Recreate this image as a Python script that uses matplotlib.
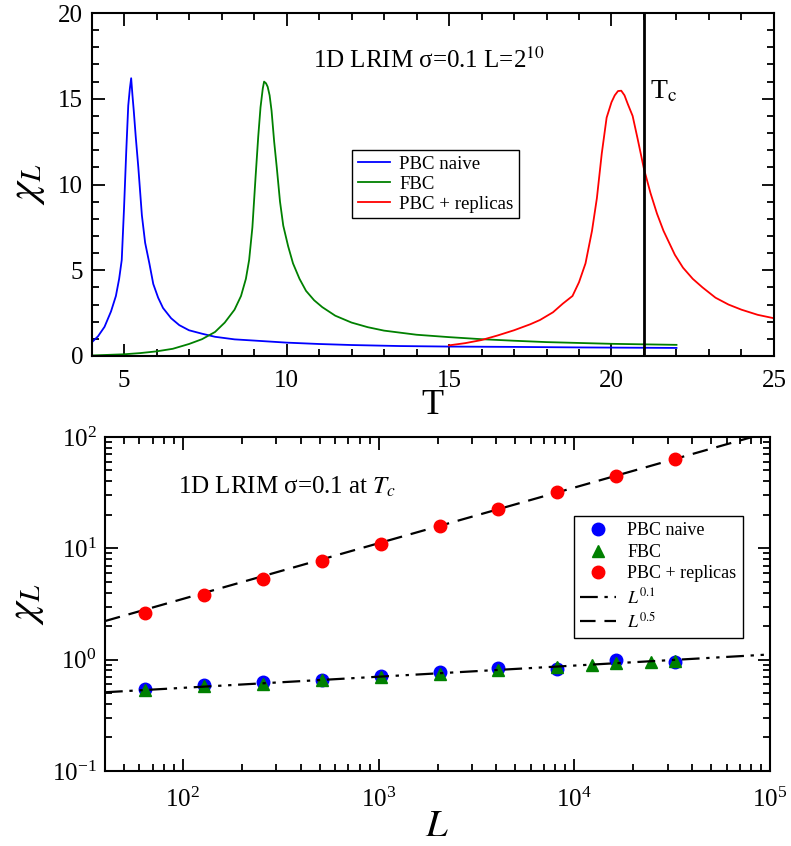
import numpy as np
import matplotlib
matplotlib.use("Agg")
import matplotlib.pyplot as plt
from matplotlib.ticker import MultipleLocator, LogLocator, NullFormatter

plt.rcParams['font.family'] = ['Liberation Serif', 'DejaVu Serif']
plt.rcParams['mathtext.fontset'] = 'stix'
plt.rcParams['axes.unicode_minus'] = False

# top panel: susceptibility vs temperature, L = 2^10
T_naive = [4.0, 4.2, 4.4, 4.6, 4.75, 4.85, 4.93, 5.0, 5.07, 5.13, 5.18, 5.22, 5.26, 5.3,
           5.36, 5.44, 5.55, 5.65, 5.78, 5.9, 6.05, 6.2, 6.45, 6.7, 7.0, 7.4, 7.8, 8.4,
           9.0, 10.0, 11.0, 12.0, 13.5, 15.0, 17.0, 19.0, 21.0, 22.0]
chi_naive = [0.78, 1.15, 1.7, 2.6, 3.5, 4.5, 5.6, 8.6, 12.0, 14.6, 15.6, 16.2, 15.2, 14.3,
             12.8, 11.0, 8.2, 6.6, 5.4, 4.2, 3.4, 2.8, 2.2, 1.8, 1.5, 1.3, 1.12, 0.97,
             0.9, 0.78, 0.7, 0.64, 0.58, 0.55, 0.53, 0.5, 0.48, 0.47]

T_fbc = [4.0, 5.0, 5.5, 6.0, 6.5, 7.0, 7.4, 7.8, 8.1, 8.4, 8.6, 8.75, 8.85, 8.95, 9.05,
         9.13, 9.2, 9.27, 9.31, 9.37, 9.42, 9.48, 9.54, 9.62, 9.7, 9.8, 9.9, 10.05, 10.2,
         10.4, 10.6, 10.85, 11.1, 11.5, 12.0, 12.5, 13.0, 14.0, 15.0, 16.0, 17.0, 18.0,
         19.0, 20.0, 21.0, 22.0]
chi_fbc = [0.03, 0.1, 0.17, 0.27, 0.42, 0.7, 0.98, 1.4, 1.95, 2.7, 3.5, 4.5, 5.6, 7.5, 10.5,
           12.8, 14.5, 15.6, 16.0, 15.9, 15.7, 15.2, 14.3, 12.5, 11.0, 9.0, 7.6, 6.4, 5.4,
           4.5, 3.8, 3.25, 2.85, 2.35, 1.95, 1.68, 1.48, 1.24, 1.1, 0.98, 0.89, 0.81,
           0.76, 0.71, 0.68, 0.65]

T_rep = [15.0, 15.5, 16.0, 16.5, 17.0, 17.5, 17.8, 18.2, 18.5, 18.8, 19.0, 19.2, 19.4,
         19.55, 19.7, 19.85, 20.0, 20.1, 20.2, 20.3, 20.4, 20.5, 20.65, 20.8, 21.0, 21.2,
         21.4, 21.6, 21.8, 21.95, 22.2, 22.5, 22.8, 23.2, 23.6, 24.0, 24.5, 25.0]
chi_rep = [0.62, 0.75, 0.93, 1.2, 1.5, 1.85, 2.1, 2.55, 3.05, 3.5, 4.3, 5.4, 7.3,
           9.2, 11.8, 13.9, 14.8, 15.2, 15.45, 15.47, 15.2, 14.7, 14.0, 12.7, 10.9, 9.5,
           8.3, 7.3, 6.5, 5.9, 5.15, 4.5, 4.0, 3.4, 3.0, 2.7, 2.4, 2.2]

Tc = 21.0

# bottom panel: susceptibility at Tc vs L
L_pts = [64, 128, 256, 512, 1024, 2048, 4096, 8192, 16384, 32768]
chi_naive_L = [0.545, 0.588, 0.63, 0.66, 0.72, 0.775, 0.84, 0.83, 0.985, 0.95]
chi_rep_L = [2.63, 3.78, 5.35, 7.76, 11.0, 15.8, 22.6, 31.9, 44.3, 63.5]
L_fbc = [64, 128, 256, 512, 1024, 2048, 4096, 8192, 12288, 16384, 24576, 32768]
chi_fbc_L = [0.535, 0.575, 0.61, 0.65, 0.70, 0.745, 0.81, 0.86, 0.90, 0.93, 0.96, 0.98]
amp_01 = 0.352
amp_05 = 0.351


def style_axis(ax, xpad):
    for sp in ax.spines.values():
        sp.set_linewidth(1.5)
    ax.tick_params(which='both', direction='in', top=True, right=True,
                   width=1.3, labelsize=18)
    ax.tick_params(which='major', length=9)
    ax.tick_params(which='minor', length=5)
    ax.tick_params(axis='x', which='major', pad=xpad)
    ax.tick_params(axis='y', which='major', pad=6)


fig = plt.figure(figsize=(7.91, 8.46), dpi=100)

ax1 = fig.add_axes([0.1157, 0.5792, 0.8628, 0.4054])
ax1.plot(T_naive, chi_naive, color='#0000ff', lw=1.3, label='PBC naive')
ax1.plot(T_fbc, chi_fbc, color='#008000', lw=1.3, label='FBC')
ax1.plot(T_rep, chi_rep, color='#ff0000', lw=1.3, label='PBC + replicas')
ax1.axvline(Tc, color='black', lw=2)
ax1.set_xlim(4, 25)
ax1.set_ylim(0, 20)
ax1.xaxis.set_major_locator(MultipleLocator(5))
ax1.xaxis.set_minor_locator(MultipleLocator(1))
ax1.yaxis.set_major_locator(MultipleLocator(5))
ax1.yaxis.set_minor_locator(MultipleLocator(1))
style_axis(ax1, 10)
ax1.set_xlabel('T', fontsize=26, labelpad=-2)
ax1.set_ylabel(r'$\chi_L$', fontsize=30, labelpad=8)
ax1.text(10.8, 16.8, r'1D LRIM σ=0.1 L=2$^{10}$', fontsize=18, va='baseline')
ax1.text(21.2, 15.0, r'T$_{\rm c}$', fontsize=20, va='baseline')
leg1 = ax1.legend(loc='upper left', bbox_to_anchor=(0.382, 0.60), fontsize=13.5,
                  frameon=True, fancybox=False, edgecolor='black', framealpha=1,
                  handlelength=1.7, handletextpad=0.5, borderpad=0.3,
                  labelspacing=0.15, borderaxespad=0)
leg1.get_frame().set_linewidth(1.0)

ax2 = fig.add_axes([0.1327, 0.0887, 0.8408, 0.3948])
Lfit = np.logspace(np.log10(40), 5, 200)
ax2.plot(L_pts, chi_naive_L, 'o', color='#0000ff', ms=9, label='PBC naive', zorder=3)
ax2.plot(L_fbc, chi_fbc_L, '^', color='#008000', ms=9, label='FBC', zorder=4)
ax2.plot(L_pts, chi_rep_L, 'o', color='#ff0000', ms=9, label='PBC + replicas', zorder=3)
ax2.plot(Lfit, amp_01 * Lfit ** 0.1, color='black', lw=1.6,
         dashes=(8, 3, 1.5, 3, 1.5, 3), label=r'$L^{0.1}$', zorder=5)
ax2.plot(Lfit, amp_05 * Lfit ** 0.5, color='black', lw=1.6,
         dashes=(7, 4), label=r'$L^{0.5}$', zorder=2)
ax2.set_xscale('log')
ax2.set_yscale('log')
ax2.set_xlim(40, 1e5)
ax2.set_ylim(0.1, 100)
ax2.xaxis.set_minor_locator(LogLocator(base=10, subs=np.arange(2, 10)))
ax2.yaxis.set_minor_locator(LogLocator(base=10, subs=np.arange(2, 10)))
ax2.xaxis.set_minor_formatter(NullFormatter())
ax2.yaxis.set_minor_formatter(NullFormatter())
style_axis(ax2, 12)
ax2.set_xlabel(r'$L$', fontsize=28, labelpad=-3)
ax2.set_ylabel(r'$\chi_L$', fontsize=30, labelpad=4)
ax2.text(0.11, 0.829, r'1D LRIM σ=0.1 at $T_c$', fontsize=18, va='baseline',
         transform=ax2.transAxes)
leg2 = ax2.legend(loc='upper left', bbox_to_anchor=(0.705, 0.763), fontsize=13,
                  frameon=True, fancybox=False, edgecolor='black', framealpha=1,
                  handlelength=2.0, handletextpad=0.6, borderpad=0.35,
                  labelspacing=0.25, borderaxespad=0)
leg2.get_frame().set_linewidth(1.0)

fig.savefig('out.png', dpi=100)
